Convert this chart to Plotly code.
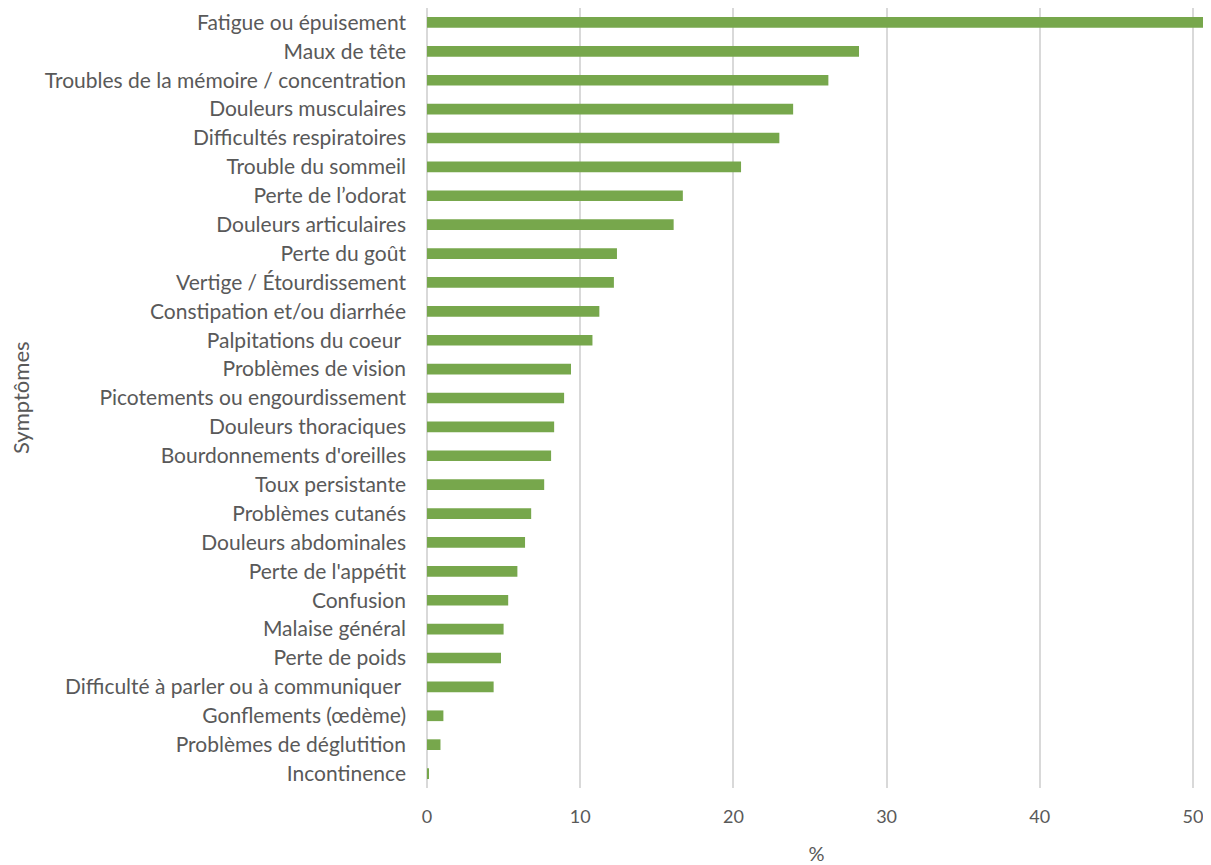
import plotly.graph_objects as go

symptoms = [
    "Fatigue ou épuisement",
    "Maux de tête",
    "Troubles de la mémoire / concentration",
    "Douleurs musculaires",
    "Difficultés respiratoires",
    "Trouble du sommeil",
    "Perte de l’odorat",
    "Douleurs articulaires",
    "Perte du goût",
    "Vertige / Étourdissement",
    "Constipation et/ou diarrhée",
    "Palpitations du coeur ",
    "Problèmes de vision",
    "Picotements ou engourdissement",
    "Douleurs thoraciques",
    "Bourdonnements d'oreilles",
    "Toux persistante",
    "Problèmes cutanés",
    "Douleurs abdominales",
    "Perte de l'appétit",
    "Confusion",
    "Malaise général",
    "Perte de poids",
    "Difficulté à parler ou à communiquer ",
    "Gonflements (œdème)",
    "Problèmes de déglutition",
    "Incontinence",
]
percent = [50.8, 28.2, 26.2, 23.9, 23.0, 20.5, 16.7, 16.1, 12.4, 12.2,
           11.25, 10.8, 9.4, 8.95, 8.3, 8.1, 7.65, 6.8, 6.4, 5.9,
           5.3, 5.0, 4.83, 4.35, 1.07, 0.88, 0.13]
x_ticks = [0, 10, 20, 30, 40, 50]

font_family = "Lato, 'Open Sans', sans-serif"
text_color = "#595959"

fig = go.Figure(go.Bar(
    x=percent,
    y=symptoms,
    orientation="h",
    marker=dict(color="#77A74C", line=dict(width=0)),
))

W, H = 1203, 857
L, R, T, B = 419, 5, 0, 77

fig.update_layout(
    width=W,
    height=H,
    margin=dict(l=L, r=R, t=T, b=B),
    paper_bgcolor="white",
    plot_bgcolor="white",
    bargap=0.63,
    showlegend=False,
    font=dict(family=font_family, color=text_color),
    xaxis=dict(
        range=[0, 50.85],
        tickvals=x_ticks,
        showgrid=True,
        gridcolor="#D9D9D9",
        gridwidth=1.5,
        zeroline=True,
        zerolinecolor="#D9D9D9",
        zerolinewidth=1.5,
        showline=False,
        tickfont=dict(size=18, color=text_color),
        ticklabelstandoff=16,
        title=dict(text="%", font=dict(size=20, color=text_color), standoff=22),
    ),
    yaxis=dict(
        categoryorder="array",
        categoryarray=list(reversed(symptoms)),
        autorange=True,
        showgrid=False,
        showline=False,
        tickfont=dict(size=21, color=text_color),
        ticklabelstandoff=20,
        automargin=False,
    ),
    annotations=[dict(
        text="Symptômes",
        textangle=-90,
        xref="paper", yref="paper",
        x=(12 - L) / (W - L - R), y=0.5,
        xanchor="center", yanchor="middle",
        showarrow=False,
        font=dict(size=22, color=text_color, family=font_family),
    )],
)

fig.write_html("out.html")
